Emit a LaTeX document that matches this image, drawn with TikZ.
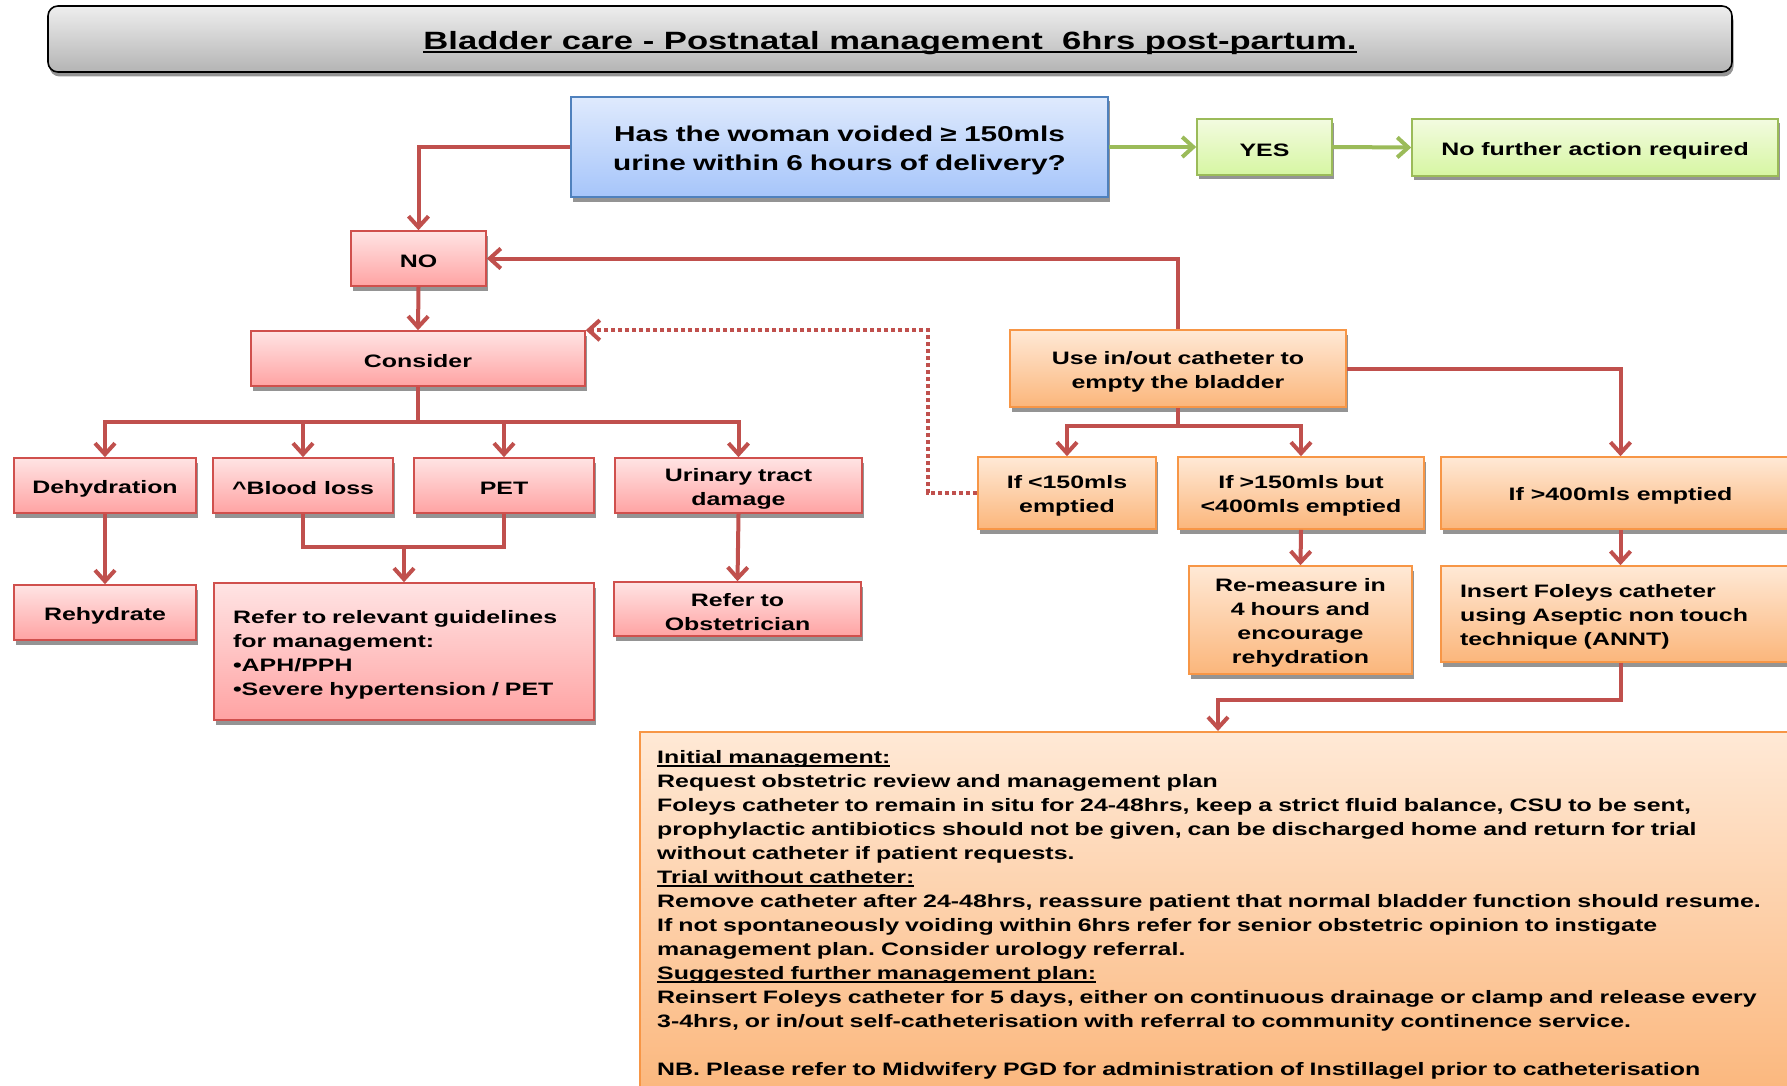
\documentclass[tikz,border=0pt]{standalone}
\usepackage{fontspec}
\setmainfont{Liberation Sans}[FakeStretch=1.385]
\usetikzlibrary{arrows.meta,shadows}
\frenchspacing
\definecolor{rcol}{HTML}{C0504D}
\definecolor{gcol}{HTML}{9BBB59}
\definecolor{pinkTop}{HTML}{FFE4E4}
\definecolor{pinkBot}{HTML}{FFA3A3}
\definecolor{pinkLine}{HTML}{D0504D}
\definecolor{bluTop}{HTML}{DFEAFD}
\definecolor{bluBot}{HTML}{A6C5FA}
\definecolor{bluLine}{HTML}{4F81BD}
\definecolor{grnTop}{HTML}{F3FBE0}
\definecolor{grnBot}{HTML}{D6F6A2}
\definecolor{grnLine}{HTML}{9BBB59}
\definecolor{orTop}{HTML}{FFE9D6}
\definecolor{orBot}{HTML}{FBB67B}
\definecolor{orLine}{HTML}{F79646}
\definecolor{gryTop}{HTML}{EEEEEE}
\definecolor{gryBot}{HTML}{B4B4B4}
\newcommand\ulx[3]{\leavevmode\setbox0=\hbox{#3}\rlap{\rule[-#1]{\wd0}{#2}}\box0}
\newcommand\bodyfs{\fontsize{18}{24}\selectfont\bfseries}
\begin{document}
\begin{tikzpicture}[x=1pt,y=-1pt,
  box/.style={draw, line width=1.6pt, inner sep=0pt, align=center, font=\bodyfs,
    execute at begin node={\rule{0pt}{1.05em}},
    drop shadow={shadow xshift=1.5pt, shadow yshift=-4.5pt, fill=black!42, opacity=1}},
  pinkbox/.style={box, draw=pinkLine, top color=pinkTop, bottom color=pinkBot},
  bluebox/.style={box, draw=bluLine, top color=bluTop, bottom color=bluBot},
  greenbox/.style={box, draw=grnLine, top color=grnTop, bottom color=grnBot},
  orangebox/.style={box, draw=orLine, top color=orTop, bottom color=orBot},
  titlebox/.style={box, draw=black, rounded corners=10pt, top color=gryTop, bottom color=gryBot,
    font=\fontsize{25}{30}\selectfont\bfseries},
  rline/.style={draw=rcol, line width=4pt},
  rarrow/.style={rline, -{Straight Barb[length=11pt,width=20pt]}},
  garrow/.style={draw=gcol, line width=4pt, -{Straight Barb[length=11pt,width=20pt]}},
  dotarrow/.style={rarrow, dash pattern=on 4pt off 3pt}
]
\useasboundingbox (0,0) rectangle (1787,1086);
\fill[white] (0,0) rectangle (1787,1086);

% title
\node[titlebox, minimum width=1684pt, minimum height=66pt] (title) at (890,39)
  {\ulx{4pt}{2.2pt}{Bladder care - Postnatal management\ \ 6hrs post-partum.}};

% top row
\node[bluebox, minimum width=537pt, minimum height=100pt, text width=520pt, font=\fontsize{21.5}{28.5}\selectfont\bfseries]
  (q) at (839.5,147) {Has the woman voided ≥ 150mls\\urine within 6 hours of delivery?};
\node[greenbox, minimum width=135pt, minimum height=56pt] (yes) at (1264.5,147) {YES};
\node[greenbox, minimum width=366pt, minimum height=57pt] (nfa) at (1595,147.5) {No further action required};

% left branch
\node[pinkbox, minimum width=135pt, minimum height=55pt] (no) at (418.5,258.5) {NO};
\node[pinkbox, minimum width=334pt, minimum height=55pt] (consider) at (418,358.5) {Consider};
\node[pinkbox, minimum width=182pt, minimum height=55pt] (dehyd) at (105,485.5) {Dehydration};
\node[pinkbox, minimum width=180pt, minimum height=55pt] (blood) at (303,485.5) {\textasciicircum Blood loss};
\node[pinkbox, minimum width=180pt, minimum height=55pt] (pet) at (504,485.5) {PET};
\node[pinkbox, minimum width=247pt, minimum height=55pt, text width=237pt] (utd) at (738.5,485.5) {Urinary tract\\damage};
\node[pinkbox, minimum width=182pt, minimum height=55pt] (rehyd) at (105,612.5) {Rehydrate};
\node[pinkbox, minimum height=137pt, text width=342pt, inner xsep=19pt, align=left] (refer) at (404,651.5)
  {Refer to relevant guidelines\\for management:\\•APH/PPH\\•Severe hypertension / PET};
\node[pinkbox, minimum width=247pt, minimum height=54pt, text width=237pt] (obst) at (737.5,609) {Refer to\\Obstetrician};

% right branch
\node[orangebox, minimum width=336pt, minimum height=77pt, text width=326pt] (use) at (1178,368.5) {Use in/out catheter to\\empty the bladder};
\node[orangebox, minimum width=178pt, minimum height=72pt, text width=170pt] (lt150) at (1067,493) {If <150mls\\emptied};
\node[orangebox, minimum width=246pt, minimum height=72pt, text width=238pt] (mid) at (1301,493) {If >150mls but\\<400mls emptied};
\node[orangebox, minimum width=359pt, minimum height=72pt] (gt400) at (1620.5,493) {If >400mls emptied};
\node[orangebox, minimum width=223pt, minimum height=108pt, text width=215pt] (remeas) at (1300.5,620)
  {Re-measure in\\4 hours and\\encourage\\rehydration};
\node[orangebox, minimum height=96pt, text width=321pt, inner xsep=19pt, align=left] (insert) at (1620.5,614)
  {Insert Foleys catheter\\using Aseptic non touch\\technique (ANNT)};

% management box
\node[orangebox, minimum width=1161pt, minimum height=369pt, anchor=north west] (mgmt) at (639,731) {};
\node[anchor=north west, text width=1150pt, align=left, inner sep=0pt, font=\bodyfs] (mgmttext) at (657,750.5)
  {\ulx{3pt}{1.6pt}{Initial management:}\\
   Request obstetric review and management plan\\
   Foleys catheter to remain in situ for 24-48hrs, keep a strict fluid balance, CSU to be sent,\\
   prophylactic antibiotics should not be given, can be discharged home and return for trial\\
   without catheter if patient requests.\\
   \ulx{3pt}{1.6pt}{Trial without catheter:}\\
   Remove catheter after 24-48hrs, reassure patient that normal bladder function should resume.\\
   If not spontaneously voiding within 6hrs refer for senior obstetric opinion to instigate\\
   management plan. Consider urology referral.\\
   \ulx{3pt}{1.6pt}{Suggested further management plan:}\\
   Reinsert Foleys catheter for 5 days, either on continuous drainage or clamp and release every\\
   3-4hrs, or in/out self-catheterisation with referral to community continence service.\\[24pt]
   NB. Please refer to Midwifery PGD for administration of Instillagel prior to catheterisation};

% helper coordinates
\coordinate (cb) at (418,422);
\coordinate (j1) at (404,547);
\coordinate (dotc) at (928,493);
\coordinate (ub) at (1178,426);
\coordinate (ib) at (1218,700);

% connectors
\draw[garrow] (q.east) -- (yes.west);
\draw[garrow] (yes.east) -- (nfa.west);
\draw[rarrow] (q.west) -| (no.north);
\draw[rarrow] (use.north) |- (no.east);
\draw[rarrow] (no.south) -- (consider.north);
\draw[rline] (consider.south) -- (cb);
\draw[rarrow] (cb) -| (dehyd.north);
\draw[rarrow] (cb) -| (blood.north);
\draw[rarrow] (cb) -| (pet.north);
\draw[rarrow] (cb) -| (utd.north);
\draw[rarrow] (dehyd.south) -- (rehyd.north);
\draw[rline] (blood.south) |- (j1) -| (pet.south);
\draw[rarrow] (j1) -- (refer.north);
\draw[rarrow] (utd.south) -- (obst.north);
\draw[dotarrow] (lt150.west) -- (dotc) |- (consider.north east);
\draw[rline] (use.south) -- (ub);
\draw[rarrow] (ub) -| (lt150.north);
\draw[rarrow] (ub) -| (mid.north);
\draw[rarrow] (use.east) -| (gt400.north);
\draw[rarrow] (mid.south) -- (remeas.north);
\draw[rarrow] (gt400.south) -- (insert.north);
\draw[rarrow] (insert.south) |- (ib) -- (ib |- mgmt.north);
\end{tikzpicture}
\end{document}
